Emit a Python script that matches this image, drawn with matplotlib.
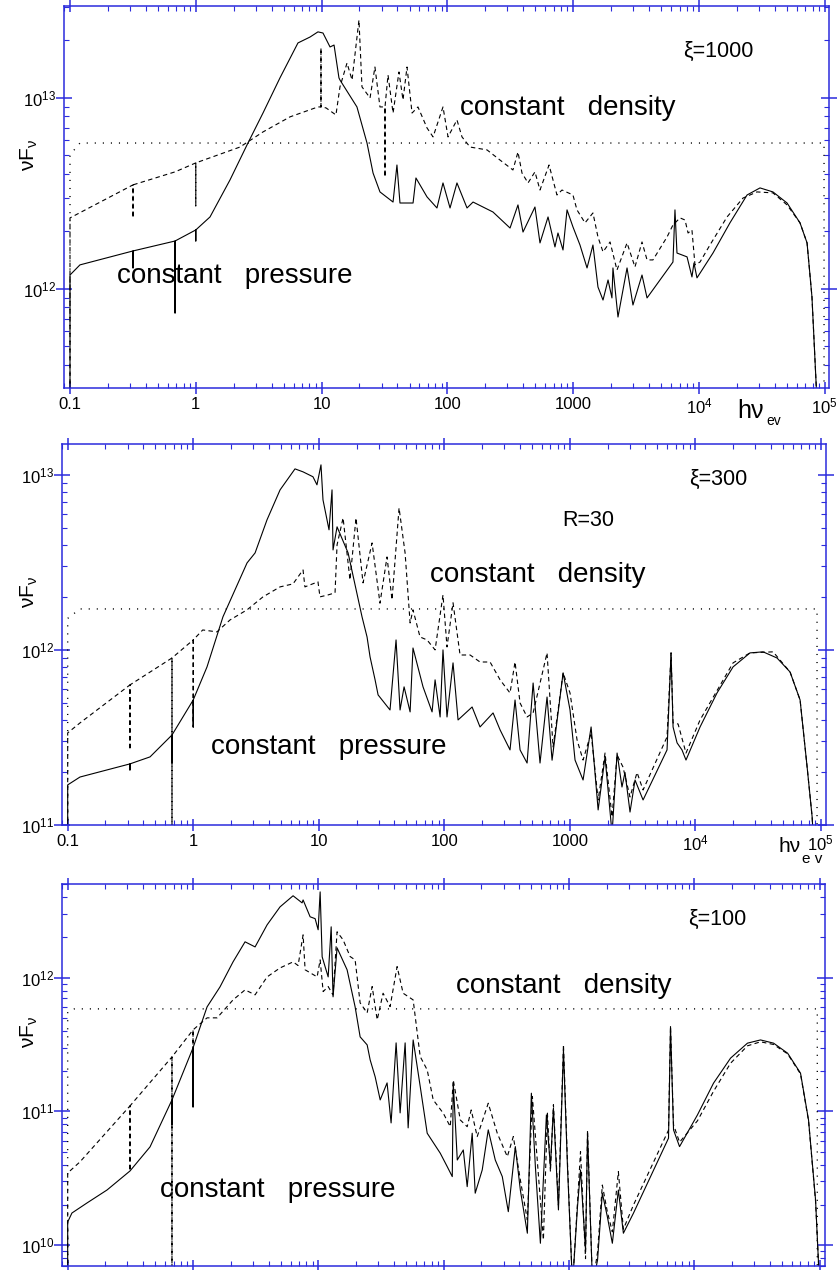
import numpy as np
import matplotlib
matplotlib.use("Agg")
import matplotlib.pyplot as plt
from matplotlib.ticker import LogLocator, NullFormatter

plt.rcParams["font.family"] = ["Liberation Sans", "DejaVu Sans"]
plt.rcParams["mathtext.fontset"] = "custom"
plt.rcParams["mathtext.rm"] = "Liberation Sans"
plt.rcParams["mathtext.it"] = "Liberation Sans:italic"
plt.rcParams["mathtext.bf"] = "Liberation Sans:bold"

# values: log10(h nu / eV) and log10(nu F_nu)
# --- xi = 1000 ---
p1_pres_lx = [-1.0, -1.0, -0.921, -0.499, -0.499, -0.499, -0.165, -0.165, -0.165, 0.0, 0.0, 0.0,
              0.113, 0.272, 0.407, 0.534, 0.669, 0.812, 0.908, 0.971, 1.011, 1.067, 1.099, 1.138,
              1.146, 1.281, 1.361, 1.409, 1.464, 1.568, 1.599, 1.623, 1.727, 1.750, 1.838, 1.917,
              1.965, 2.021, 2.076, 2.156, 2.204, 2.362, 2.498, 2.561, 2.601, 2.696, 2.736, 2.800,
              2.855, 2.879, 2.919, 2.951, 2.998, 3.054, 3.110, 3.157, 3.197, 3.237, 3.277, 3.308,
              3.316, 3.356, 3.428, 3.475, 3.547, 3.587, 3.793, 3.809, 3.825, 3.905, 3.944, 3.960,
              3.984, 4.111, 4.246, 4.382, 4.485, 4.588, 4.700, 4.803, 4.859, 4.898, 4.946]
p1_pres_ly = [11.3, 12.073, 12.126, 12.199, 12.110, 12.199, 12.251, 11.874, 12.251, 12.309, 12.251, 12.309,
              12.377, 12.571, 12.754, 12.921, 13.105, 13.288, 13.319, 13.346, 13.340, 13.267, 13.277, 13.105,
              13.094, 12.953, 12.764, 12.607, 12.508, 12.455, 12.649, 12.450, 12.450, 12.581, 12.482, 12.424,
              12.555, 12.424, 12.555, 12.424, 12.455, 12.403, 12.319, 12.440, 12.298, 12.429, 12.241, 12.377,
              12.220, 12.293, 12.204, 12.414, 12.325, 12.230, 12.110, 12.230, 12.010, 11.942, 12.047, 11.953,
              12.110, 11.853, 12.110, 11.916, 12.073, 11.953, 12.141, 12.414, 12.188, 12.168, 12.063, 12.136,
              12.058, 12.188, 12.346, 12.492, 12.529, 12.508, 12.450, 12.346, 12.241, 11.958, 11.3]
p1_dens_lx = [-1.0, -1.0, -0.499, -0.499, -0.499, -0.165, 0.0, 0.0, 0.0, 0.351, 0.534, 0.749,
              0.971, 0.995, 0.995, 0.995, 1.035, 1.114, 1.146, 1.202, 1.242, 1.297, 1.321, 1.385,
              1.424, 1.464, 1.504, 1.504, 1.504, 1.528, 1.568, 1.615, 1.647, 1.679, 1.719, 1.766,
              1.838, 1.886, 1.965, 2.005, 2.076, 2.116, 2.180, 2.315, 2.418, 2.521, 2.561, 2.593,
              2.641, 2.696, 2.736, 2.808, 2.871, 2.911, 2.998, 3.030, 3.094, 3.157, 3.197, 3.237,
              3.293, 3.348, 3.428, 3.491, 3.547, 3.587, 3.634, 3.746, 3.793, 3.849, 3.889, 3.913,
              3.944, 3.968, 4.008, 4.087, 4.223, 4.350, 4.461, 4.588, 4.700, 4.803, 4.859, 4.898, 4.946]
p1_dens_ly = [11.3, 12.372, 12.545, 12.372, 12.545, 12.613, 12.660, 12.435, 12.660, 12.743, 12.822, 12.901,
              12.953, 12.953, 13.262, 12.953, 12.948, 12.911, 13.058, 13.183, 13.094, 13.408, 13.058, 13.0,
              13.162, 12.953, 12.953, 12.586, 12.953, 13.120, 12.921, 13.136, 12.990, 13.162, 12.921, 12.953,
              12.843, 12.796, 12.953, 12.796, 12.885, 12.796, 12.743, 12.728, 12.675, 12.623, 12.717, 12.607,
              12.555, 12.613, 12.518, 12.649, 12.492, 12.518, 12.492, 12.414, 12.346, 12.398, 12.272, 12.194,
              12.246, 12.099, 12.241, 12.115, 12.246, 12.152, 12.152, 12.272, 12.335, 12.372, 12.361, 12.293,
              12.309, 12.126, 12.141, 12.230, 12.377, 12.476, 12.508, 12.503, 12.440, 12.346, 12.241, 11.958, 11.3]
p1_inc_lx = [-1.0, -1.0, -0.921, 4.994, 4.994]
p1_inc_ly = [11.3, 12.702, 12.764, 12.764, 11.3]

# --- xi = 300 ---
p2_pres_lx = [-1.0, -1.0, -0.902, -0.504, -0.504, -0.504, -0.344, -0.169, -0.169, -0.169, 0.0, 0.0,
              0.0, 0.110, 0.237, 0.429, 0.493, 0.588, 0.692, 0.811, 0.875, 0.954, 0.986, 1.018,
              1.034, 1.082, 1.106, 1.114, 1.146, 1.234, 1.345, 1.385, 1.409, 1.449, 1.473, 1.568,
              1.616, 1.648, 1.680, 1.728, 1.751, 1.831, 1.903, 1.927, 1.967, 1.990, 2.022, 2.070,
              2.110, 2.222, 2.285, 2.389, 2.445, 2.524, 2.564, 2.604, 2.660, 2.708, 2.763, 2.819,
              2.859, 2.947, 3.002, 3.042, 3.106, 3.170, 3.226, 3.281, 3.337, 3.377, 3.416, 3.440,
              3.480, 3.520, 3.584, 3.775, 3.807, 3.823, 3.855, 3.894, 3.926, 4.038, 4.173, 4.301,
              4.436, 4.540, 4.651, 4.755, 4.835, 4.891, 4.931, 4.950]
p2_pres_ly = [10.8, 11.229, 11.274, 11.349, 11.314, 11.349, 11.389, 11.514, 11.354, 11.514, 11.714, 11.56,
              11.714, 11.903, 12.189, 12.497, 12.554, 12.743, 12.914, 13.034, 13.017, 12.989, 12.943, 13.057,
              12.857, 12.686, 12.914, 12.571, 12.703, 12.554, 12.189, 12.074, 11.96, 11.829, 11.743, 11.657,
              12.057, 11.657, 11.789, 11.646, 12.011, 11.789, 11.646, 11.829, 11.617, 12.0, 11.617, 11.926,
              11.6, 11.674, 11.56, 11.64, 11.543, 11.429, 11.714, 11.429, 11.354, 11.811, 11.354, 11.731,
              11.37, 11.869, 11.657, 11.371, 11.257, 11.56, 11.086, 11.389, 10.95, 11.411, 11.217, 11.3,
              11.074, 11.257, 11.143, 11.429, 11.983, 11.56, 11.469, 11.429, 11.371, 11.56, 11.754, 11.903,
              11.983, 11.989, 11.954, 11.874, 11.714, 11.331, 11.046, 10.8]
p2_dens_lx = [-1.0, -1.0, -0.902, -0.504, -0.504, -0.504, -0.169, -0.169, -0.169, 0.0, 0.0, 0.0,
              0.076, 0.189, 0.293, 0.429, 0.556, 0.692, 0.795, 0.875, 0.890, 0.994, 1.010, 1.074,
              1.130, 1.146, 1.194, 1.249, 1.297, 1.353, 1.425, 1.488, 1.544, 1.584, 1.640, 1.688,
              1.728, 1.751, 1.807, 1.863, 1.927, 1.990, 2.022, 2.070, 2.126, 2.206, 2.285, 2.365,
              2.445, 2.524, 2.564, 2.604, 2.660, 2.708, 2.819, 2.867, 2.947, 3.002, 3.058, 3.106,
              3.170, 3.226, 3.281, 3.337, 3.377, 3.424, 3.480, 3.536, 3.584, 3.775, 3.807, 3.823,
              3.863, 3.926, 4.038, 4.301, 4.436, 4.620, 4.755, 4.835, 4.891, 4.931, 4.950]
p2_dens_ly = [10.8, 11.526, 11.583, 11.8, 11.429, 11.8, 11.954, 10.8, 11.954, 12.057, 11.56, 12.057,
              12.114, 12.103, 12.171, 12.229, 12.303, 12.36, 12.377, 12.457, 12.36, 12.389, 12.303, 12.314,
              12.326, 12.6, 12.754, 12.4, 12.754, 12.383, 12.611, 12.267, 12.531, 12.286, 12.811, 12.554,
              12.154, 12.229, 12.074, 12.057, 12.0, 12.314, 12.017, 12.269, 11.971, 11.971, 11.931, 11.931,
              11.829, 11.754, 11.931, 11.697, 11.617, 11.64, 11.983, 11.446, 11.869, 11.754, 11.486, 11.371,
              11.526, 11.143, 11.411, 11.046, 11.40, 11.331, 11.16, 11.30, 11.2, 11.503, 11.983, 11.583,
              11.577, 11.411, 11.6, 11.926, 11.983, 11.989, 11.874, 11.714, 11.331, 11.046, 10.8]
p2_inc_lx = [-1.0, -1.0, -0.902, 4.97, 4.97]
p2_inc_ly = [10.8, 12.18, 12.234, 12.234, 10.8]

# --- xi = 100 ---
p3_pres_lx = [-1.0, -1.0, -0.966, -0.846, -0.686, -0.503, -0.343, -0.168, -0.168, -0.168, 0.0, 0.0,
              0.0, 0.112, 0.215, 0.319, 0.415, 0.495, 0.591, 0.694, 0.798, 0.870, 0.878, 0.934,
              0.974, 0.998, 1.014, 1.030, 1.078, 1.102, 1.117, 1.149, 1.229, 1.293, 1.333, 1.389,
              1.413, 1.453, 1.493, 1.548, 1.580, 1.620, 1.652, 1.692, 1.716, 1.756, 1.812, 1.868,
              1.972, 2.028, 2.068, 2.076, 2.108, 2.156, 2.187, 2.227, 2.251, 2.307, 2.355, 2.411,
              2.467, 2.515, 2.571, 2.611, 2.667, 2.699, 2.731, 2.771, 2.819, 2.851, 2.875, 2.915,
              2.955, 2.987, 3.027, 3.067, 3.091, 3.131, 3.147, 3.187, 3.227, 3.265, 3.305, 3.345,
              3.393, 3.433, 3.513, 3.793, 3.809, 3.833, 3.881, 4.024, 4.152, 4.288, 4.423, 4.527,
              4.631, 4.743, 4.846, 4.910, 4.966, 4.998]
p3_pres_ly = [9.7, 10.174, 10.241, 10.316, 10.413, 10.555, 10.735, 11.086, 10.9, 11.086, 11.475, 11.033,
              11.475, 11.781, 11.930, 12.117, 12.267, 12.229, 12.394, 12.528, 12.611, 12.558, 12.58, 12.454,
              12.44, 12.357, 12.640, 12.155, 12.005, 12.379, 11.856, 12.222, 12.058, 11.781, 11.557, 11.497,
              11.385, 11.258, 11.086, 11.213, 10.914, 11.512, 10.989, 11.512, 10.877, 11.534, 11.188, 10.837,
              10.688, 10.587, 10.513, 11.211, 10.637, 10.712, 10.438, 10.837, 10.389, 10.563, 10.862, 10.637,
              10.513, 10.251, 10.737, 10.413, 10.090, 11.136, 10.587, 10.015, 10.974, 10.587, 11.024, 10.264,
              11.460, 10.587, 9.7, 10.289, 10.563, 9.965, 10.837, 9.7, 9.89, 10.389, 10.214, 10.015,
              10.413, 10.09, 10.239, 10.80, 11.634, 10.862, 10.737, 10.974, 11.211, 11.398, 11.510, 11.534,
              11.510, 11.435, 11.286, 10.936, 10.339, 9.7]
p3_dens_lx = [-1.0, -1.0, -0.902, -0.503, -0.503, -0.503, -0.168, -0.168, -0.168, 0.0, 0.0, 0.0,
              0.112, 0.192, 0.319, 0.415, 0.495, 0.591, 0.694, 0.798, 0.838, 0.878, 0.894, 0.990,
              1.014, 1.038, 1.078, 1.117, 1.149, 1.197, 1.253, 1.293, 1.333, 1.389, 1.429, 1.469,
              1.516, 1.572, 1.628, 1.676, 1.756, 1.812, 1.868, 1.916, 1.996, 2.052, 2.076, 2.132,
              2.187, 2.219, 2.267, 2.355, 2.427, 2.507, 2.555, 2.611, 2.667, 2.707, 2.795, 2.827,
              2.851, 2.875, 2.915, 2.955, 2.987, 3.027, 3.067, 3.091, 3.131, 3.147, 3.187, 3.227,
              3.265, 3.305, 3.345, 3.393, 3.433, 3.513, 3.793, 3.809, 3.833, 3.881, 4.024, 4.152,
              4.288, 4.423, 4.527, 4.631, 4.743, 4.846, 4.910, 4.966, 4.998]
p3_dens_ly = [9.7, 10.540, 10.623, 11.041, 10.555, 11.041, 11.407, 9.7, 11.407, 11.609, 11.407, 11.609,
              11.699, 11.699, 11.833, 11.908, 11.871, 12.005, 12.072, 12.117, 12.09, 12.319, 12.058, 12.005,
              12.132, 11.895, 11.933, 11.87, 12.342, 12.282, 12.157, 12.132, 11.811, 11.736, 11.933, 11.684,
              11.883, 11.783, 12.082, 11.883, 11.833, 11.41, 11.31, 11.086, 10.987, 10.886, 11.235, 10.936,
              10.886, 11.011, 10.812, 11.061, 10.837, 10.662, 10.812, 10.488, 10.189, 11.111, 10.04, 10.987,
              10.55, 11.05, 10.30, 11.50, 10.62, 9.7, 10.32, 10.70, 9.9, 10.86, 9.7, 9.95,
              10.45, 10.25, 10.10, 10.55, 10.12, 10.30, 10.86, 11.634, 10.90, 10.77, 10.93, 11.15,
              11.36, 11.49, 11.52, 11.50, 11.43, 11.28, 10.93, 10.33, 9.7]
p3_inc_lx = [-1.0, -1.0, -0.946, 4.98, 4.98]
p3_inc_ly = [9.7, 11.744, 11.766, 11.766, 9.7]

x_ticks = [0.1, 1, 10, 100, 1000, 1e4, 1e5]
x_ticklabels = ["0.1", "1", "10", "100", "1000", "$10^4$", "$10^5$"]

W, H = 840, 1270
BLUE = "#2b2bdc"


def fx(px):
    return px / W


def fy(py):
    return 1 - py / H


def style_axis(ax, xlim, ylim, show_xlabels=True):
    ax.set_xscale("log")
    ax.set_yscale("log")
    ax.set_xlim(*xlim)
    ax.set_ylim(*ylim)
    ax.set_xticks(x_ticks, labels=x_ticklabels)
    ax.xaxis.set_minor_locator(LogLocator(base=10, subs=np.arange(2, 10), numticks=40))
    ax.xaxis.set_minor_formatter(NullFormatter())
    ax.yaxis.set_major_locator(LogLocator(base=10, numticks=10))
    ax.yaxis.set_minor_locator(LogLocator(base=10, subs=np.arange(2, 10), numticks=40))
    ax.yaxis.set_minor_formatter(NullFormatter())
    for s in ax.spines.values():
        s.set_color(BLUE)
        s.set_linewidth(1.1)
    ax.tick_params(which="both", top=True, right=True, colors=BLUE,
                   labelcolor="black", labelsize=12)
    ax.tick_params(axis="x", which="major", direction="inout", length=8.5, width=1.1, pad=2)
    ax.tick_params(axis="y", which="major", direction="inout", length=11.5, width=1.1, pad=0)
    ax.tick_params(which="minor", direction="in", length=3.6, width=0.8)
    ax.tick_params(axis="x", labelbottom=show_xlabels)


def draw(ax, pres, dens, inc):
    ax.plot(10 ** np.array(inc[0]), 10 ** np.array(inc[1]), color="black", lw=1.0,
            linestyle=(0, (0.8, 5)))
    ax.plot(10 ** np.array(dens[0]), 10 ** np.array(dens[1]), color="black", lw=0.8,
            linestyle=(0, (4.0, 3.0)))
    ax.plot(10 ** np.array(pres[0]), 10 ** np.array(pres[1]), color="black", lw=0.8)


fig = plt.figure(figsize=(8.4, 12.7), dpi=100)

ax1 = fig.add_axes([64 / W, 1 - 388 / H, 765 / W, 382 / H])
draw(ax1, (p1_pres_lx, p1_pres_ly), (p1_dens_lx, p1_dens_ly), (p1_inc_lx, p1_inc_ly))
style_axis(ax1, (0.0896, 1.08e5), (3.03e11, 3.03e13))

ax2 = fig.add_axes([61.7 / W, 1 - 825 / H, 764.3 / W, 381 / H])
draw(ax2, (p2_pres_lx, p2_pres_ly), (p2_dens_lx, p2_dens_ly), (p2_inc_lx, p2_inc_ly))
style_axis(ax2, (0.0896, 1.10e5), (1e11, 1.5e13))

ax3 = fig.add_axes([61.7 / W, 4 / H, 763.3 / W, 382 / H])
draw(ax3, (p3_pres_lx, p3_pres_ly), (p3_dens_lx, p3_dens_ly), (p3_inc_lx, p3_inc_ly))
style_axis(ax3, (0.0896, 1.10e5), (7.0e9, 5.0e12), show_xlabels=False)

# y labels
for ypx in (155, 592, 1032):
    fig.text(fx(29), fy(ypx), r"$\mathrm{\nu F_{\nu}}$", rotation=90,
             ha="center", va="center", fontsize=15)

# x labels
fig.text(fx(737), fy(418), "hν", fontsize=18, va="baseline")
fig.text(fx(766), fy(425), "ev", fontsize=10, va="baseline")
fig.text(fx(778), fy(852), "hν", fontsize=15, va="baseline")
fig.text(fx(802), fy(863), "e v", fontsize=11, va="baseline")

# annotations
big = 20
fig.text(fx(683), fy(57), "ξ=1000", fontsize=15.5, va="baseline")
fig.text(fx(460), fy(115), "constant   density", fontsize=big, va="baseline")
fig.text(fx(117), fy(283), "constant   pressure", fontsize=big, va="baseline")

fig.text(fx(689), fy(485), "ξ=300", fontsize=15.5, va="baseline")
fig.text(fx(562), fy(526), "R=30", fontsize=15.5, va="baseline")
fig.text(fx(430), fy(582), "constant   density", fontsize=big, va="baseline")
fig.text(fx(211), fy(754), "constant   pressure", fontsize=big, va="baseline")

fig.text(fx(688), fy(925), "ξ=100", fontsize=15.5, va="baseline")
fig.text(fx(456), fy(993), "constant   density", fontsize=big, va="baseline")
fig.text(fx(160), fy(1197), "constant   pressure", fontsize=big, va="baseline")

fig.savefig("out.png", dpi=100)
